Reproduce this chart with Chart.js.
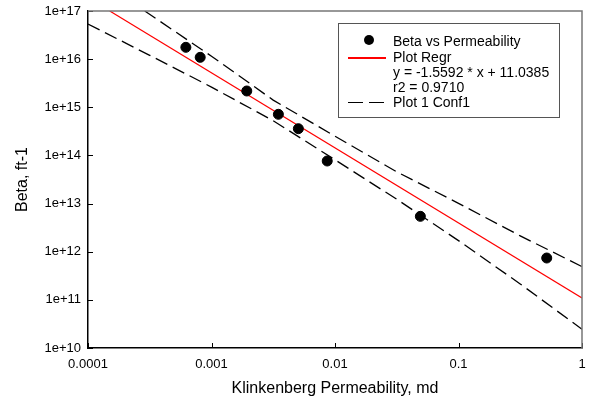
<!DOCTYPE html>
<html>
<head>
<meta charset="utf-8">
<script src="https://cdn.jsdelivr.net/npm/chart.js@4"></script>
<style>
  body { margin: 0; background: #fff; }
  #wrap { position: relative; width: 591px; height: 405px; }
  .legend { position: absolute; left: 338px; top: 23px; width: 222px; height: 95px;
    border: 1px solid #555; box-sizing: border-box; font: 14px "Liberation Sans", Arial, sans-serif; color: #000; }
  .legend .row { position: absolute; left: 54px; line-height: 16px; white-space: nowrap; }
  .legend .dot { position: absolute; left: 25px; top: 11px; width: 10px; height: 10px; border-radius: 50%; background: #000; }
  .legend .red { position: absolute; left: 9px; top: 33px; width: 38px; height: 1.5px; background: #ff0000; }
  .legend .dash { position: absolute; top: 78px; width: 15px; height: 1.2px; background: #000; }
</style>
</head>
<body>
<div id="wrap">
  <canvas id="chart"></canvas>
  <div class="legend">
    <div class="dot"></div>
    <div class="row" style="top:9px">Beta vs Permeability</div>
    <div class="red"></div>
    <div class="row" style="top:25px">Plot Regr</div>
    <div class="row" style="top:40px">y = -1.5592 * x + 11.0385</div>
    <div class="row" style="top:55px">r2 = 0.9710</div>
    <div class="dash" style="left:9px"></div>
    <div class="dash" style="left:30px"></div>
    <div class="row" style="top:70px">Plot 1 Conf1</div>
  </div>
</div>
<script>
// measured points
const permeability = [0.00062, 0.00081, 0.00193, 0.00348, 0.00505, 0.00865, 0.0491, 0.518];
const beta = [1.76e16, 1.09e16, 2.18e15, 7.15e14, 3.59e14, 7.66e13, 5.43e12, 7.4e11];

// regression line ends
const regrX = [0.00015, 1];
const regrY = [1e17, 1.092e11];

// confidence band
const upperX = [0.000288, 0.001, 0.00316, 0.01, 0.0316, 0.1, 0.316, 1];
const upperY = [1e17, 1.15e16, 1.41e15, 2.51e14, 4.57e13, 1.01e13, 2.14e12, 4.9e11];
const lowerX = [0.0001, 0.000316, 0.001, 0.00316, 0.01, 0.0316, 0.1, 0.316, 1];
const lowerY = [5.37e16, 1.2e16, 2.63e15, 5.25e14, 8.13e13, 1.23e13, 1.7e12, 2.14e11, 2.45e10];

const xTicks = [0.0001, 0.001, 0.01, 0.1, 1];
const yTicks = [1e10, 1e11, 1e12, 1e13, 1e14, 1e15, 1e16, 1e17];

const pts = (xs, ys) => xs.map((x, i) => ({ x: x, y: ys[i] }));
const font = { family: '"Liberation Sans", Arial, sans-serif', size: 13 };

// tick marks pointing into the plot, plus the grey top/right frame
const frame = {
  id: 'frame',
  afterDraw(chart) {
    const { ctx, chartArea: a, scales } = chart;
    ctx.save();
    ctx.strokeStyle = '#000';
    ctx.lineWidth = 1;
    ctx.beginPath();
    scales.x.ticks.forEach(t => {
      const px = Math.round(scales.x.getPixelForValue(t.value)) + 0.5;
      ctx.moveTo(px, a.bottom); ctx.lineTo(px, a.bottom - 5);
    });
    scales.y.ticks.forEach(t => {
      const py = Math.round(scales.y.getPixelForValue(t.value)) + 0.5;
      ctx.moveTo(a.left, py); ctx.lineTo(a.left + 5, py);
    });
    ctx.stroke();
    ctx.strokeStyle = '#777';
    ctx.lineWidth = 1.5;
    ctx.beginPath();
    ctx.moveTo(a.left, a.top); ctx.lineTo(a.right, a.top); ctx.lineTo(a.right, a.bottom);
    ctx.stroke();
    ctx.restore();
  }
};

new Chart(document.getElementById('chart'), {
  type: 'scatter',
  data: {
    datasets: [
      { label: 'Beta vs Permeability', data: pts(permeability, beta), backgroundColor: '#000', borderColor: '#000', pointRadius: 5, showLine: false },
      { label: 'Plot Regr', data: pts(regrX, regrY), borderColor: '#ff0000', borderWidth: 1.2, pointRadius: 0, showLine: true },
      { label: 'Plot 1 Conf1', data: pts(upperX, upperY), borderColor: '#000', borderWidth: 1.3, borderDash: [13, 6], pointRadius: 0, showLine: true },
      { label: 'lower', data: pts(lowerX, lowerY), borderColor: '#000', borderWidth: 1.3, borderDash: [13, 6], pointRadius: 0, showLine: true }
    ]
  },
  options: {
    responsive: true,
    maintainAspectRatio: false,
    animation: false,
    layout: { padding: { top: 11, right: 9, left: 0, bottom: 0 } },
    plugins: { legend: { display: false }, tooltip: { enabled: false } },
    scales: {
      x: {
        type: 'logarithmic', min: 0.0001, max: 1,
        afterBuildTicks: s => { s.ticks = xTicks.map(v => ({ value: v })); },
        afterFit: s => { s.height = 57; s.paddingLeft = 0; s.paddingRight = 0; },
        ticks: { color: '#000', font: font, padding: 9, maxRotation: 0, callback: v => String(v) },
        grid: { drawOnChartArea: false, drawTicks: false },
        border: { color: '#000', width: 1.5 },
        title: { display: true, text: 'Klinkenberg Permeability, md', color: '#000', font: { family: font.family, size: 16 }, padding: { top: 0, bottom: 7 } }
      },
      y: {
        type: 'logarithmic', min: 1e10, max: 1e17,
        afterBuildTicks: s => { s.ticks = yTicks.map(v => ({ value: v })); },
        afterFit: s => { s.width = 88; s.paddingTop = 0; s.paddingBottom = 0; },
        ticks: { color: '#000', font: font, padding: 7, callback: v => '1e+' + Math.round(Math.log10(v)) },
        grid: { drawOnChartArea: false, drawTicks: false },
        border: { color: '#000', width: 1.5 },
        title: { display: true, text: 'Beta, ft-1', color: '#000', font: { family: font.family, size: 16 }, padding: { top: 13, bottom: 0 } }
      }
    }
  },
  plugins: [frame]
});
</script>
</body>
</html>
